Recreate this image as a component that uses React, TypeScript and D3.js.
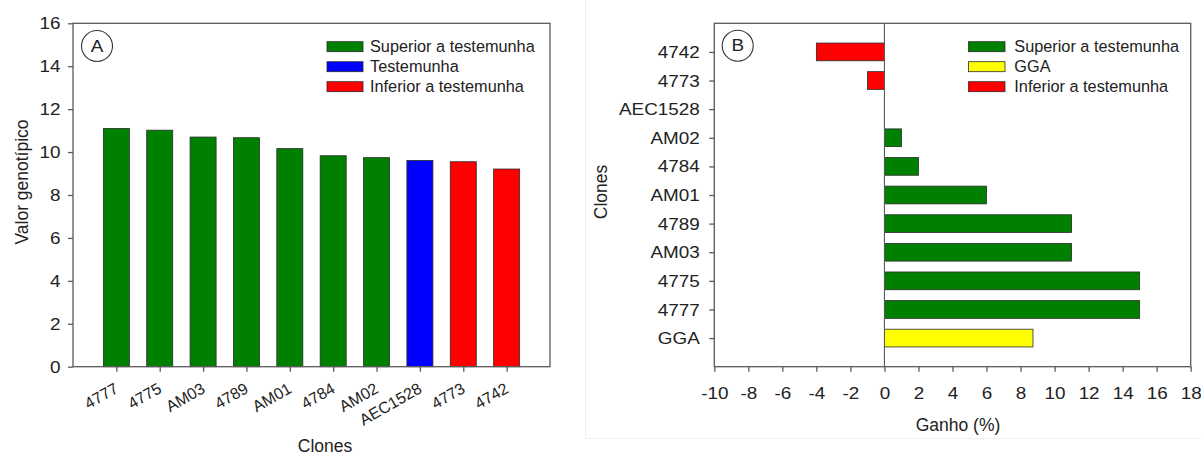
import * as d3 from "d3";
import { useEffect, useRef } from "react";

// Panel A: valor genotípico por clone
const clonesA = ["4777", "4775", "AM03", "4789", "AM01", "4784", "AM02", "AEC1528", "4773", "4742"];
const valuesA = [11.1, 11.02, 10.7, 10.67, 10.16, 9.83, 9.74, 9.61, 9.55, 9.21];
const groupA = ["sup", "sup", "sup", "sup", "sup", "sup", "sup", "test", "inf", "inf"];
const ticksA = [0, 2, 4, 6, 8, 10, 12, 14, 16];

// Panel B: ganho (%) por clone
const clonesB = ["4742", "4773", "AEC1528", "AM02", "4784", "AM01", "4789", "AM03", "4775", "4777", "GGA"];
const valuesB = [-4, -1, 0, 1, 2, 6, 11, 11, 15, 15, 8.73];
const groupB = ["inf", "inf", "sup", "sup", "sup", "sup", "sup", "sup", "sup", "sup", "gga"];
const ticksB = [-10, -8, -6, -4, -2, 0, 2, 4, 6, 8, 10, 12, 14, 16, 18];

const legendA = [
  { key: "sup", label: "Superior a testemunha" },
  { key: "test", label: "Testemunha" },
  { key: "inf", label: "Inferior a testemunha" },
];
const legendB = [
  { key: "sup", label: "Superior a testemunha" },
  { key: "gga", label: "GGA" },
  { key: "inf", label: "Inferior a testemunha" },
];

const colors: Record<string, string> = {
  sup: "#008000",
  test: "#0000ff",
  inf: "#ff0000",
  gga: "#ffff00",
};

export default function App() {
  const svgRef = useRef<SVGSVGElement>(null);
  const width = 1201;
  const height = 455;

  useEffect(() => {
    const svg = d3.select(svgRef.current);
    svg.selectAll("*").remove();

    const font = "'Liberation Sans', Arial, Helvetica, sans-serif";
    const axisColor = "#5a5a5a";
    const textColor = "#222";
    const stretch = 1.18; // tick labels in the figure are wider than Arial

    // faint borders of the two pasted images
    svg.append("line").attr("x1", 585.5).attr("x2", 585.5).attr("y1", 0).attr("y2", 438)
      .attr("stroke", "#f0f0f0");
    svg.append("line").attr("x1", 585).attr("x2", width).attr("y1", 438.5).attr("y2", 438.5)
      .attr("stroke", "#f0f0f0");

    // ---------- Panel A ----------
    const a = { left: 73, right: 550, top: 23.3, bottom: 366.7 };
    const xA = d3.scalePoint<string>().domain(clonesA).range([a.left, a.right]).padding(1);
    const yA = d3.scaleLinear().domain([0, 16]).range([a.bottom, a.top]);
    const gA = svg.append("g");
    const bwA = xA.step() * 0.6;

    gA.selectAll("rect.bar")
      .data(clonesA)
      .enter()
      .append("rect")
      .attr("class", "bar")
      .attr("x", d => xA(d)! - bwA / 2)
      .attr("y", (d, i) => yA(valuesA[i]))
      .attr("width", bwA)
      .attr("height", (d, i) => yA(0) - yA(valuesA[i]))
      .attr("fill", (d, i) => colors[groupA[i]])
      .attr("stroke", "#2b2b2b")
      .attr("stroke-width", 0.8);

    gA.append("rect")
      .attr("x", a.left).attr("y", a.top)
      .attr("width", a.right - a.left).attr("height", a.bottom - a.top)
      .attr("fill", "none").attr("stroke", axisColor).attr("stroke-width", 1.3);

    const yAxA = gA.append("g")
      .attr("transform", `translate(${a.left},0)`)
      .call(d3.axisLeft(yA).tickValues(ticksA).tickSize(5).tickSizeOuter(0).tickFormat(d => String(d)));
    yAxA.select(".domain").remove();
    yAxA.attr("font-size", 16).attr("font-family", font).attr("color", textColor);
    yAxA.selectAll("line").attr("stroke", axisColor).attr("stroke-width", 1.3);
    yAxA.selectAll("text").attr("x", -12.5 / stretch).attr("dy", "0.35em")
      .attr("transform", `scale(${stretch},1)`);

    const xAxA = gA.append("g")
      .attr("transform", `translate(0,${a.bottom})`)
      .call(d3.axisBottom(xA).tickSize(5).tickSizeOuter(0));
    xAxA.select(".domain").remove();
    xAxA.attr("font-size", 16).attr("font-family", font).attr("color", textColor);
    xAxA.selectAll("line").attr("stroke", axisColor).attr("stroke-width", 1.3);
    xAxA.selectAll("text")
      .attr("x", 0).attr("y", 0).attr("dy", 0)
      .attr("text-anchor", "end")
      .attr("transform", "translate(2.5,25) rotate(-30)");

    // legend A
    const legA = gA.append("g");
    legendA.forEach((l, i) => {
      const y = 46.7 + i * 20;
      legA.append("rect").attr("x", 327).attr("y", y - 5).attr("width", 36).attr("height", 10)
        .attr("fill", colors[l.key]).attr("stroke", "#2b2b2b").attr("stroke-width", 0.8);
      legA.append("text").attr("x", 370).attr("y", y).attr("dy", "0.35em")
        .attr("font-size", 16.3).attr("font-family", font).attr("fill", textColor).text(l.label);
    });

    gA.append("circle").attr("cx", 97).attr("cy", 46).attr("r", 15.5)
      .attr("fill", "none").attr("stroke", "#333").attr("stroke-width", 1.1);
    gA.append("text").attr("x", 97).attr("y", 46).attr("dy", "0.35em").attr("text-anchor", "middle")
      .attr("font-size", 16).attr("font-family", font).attr("fill", textColor)
      .attr("transform", `translate(${97 - 97 * stretch},0) scale(${stretch},1)`).text("A");

    gA.append("text").attr("text-anchor", "middle")
      .attr("transform", "translate(28,182) rotate(-90)")
      .attr("font-size", 17.5).attr("font-family", font).attr("fill", textColor).text("Valor genotípico");
    gA.append("text").attr("x", 325).attr("y", 452).attr("text-anchor", "middle")
      .attr("font-size", 17.5).attr("font-family", font).attr("fill", textColor).text("Clones");

    // ---------- Panel B ----------
    const b = { left: 714.3, right: 1190.7, top: 23.3, bottom: 366.7 };
    const xB = d3.scaleLinear().domain([-10, 18]).range([b.left, b.right]);
    const yB = d3.scalePoint<string>().domain(clonesB).range([b.top, b.bottom]).padding(1);
    const gB = svg.append("g");
    const bhB = yB.step() * 0.62;

    gB.selectAll("rect.bar")
      .data(clonesB.filter((d, i) => valuesB[i] !== 0))
      .enter()
      .append("rect")
      .attr("class", "bar")
      .attr("x", d => xB(Math.min(0, valuesB[clonesB.indexOf(d)])))
      .attr("y", d => yB(d)! - bhB / 2)
      .attr("width", d => Math.abs(xB(valuesB[clonesB.indexOf(d)]) - xB(0)))
      .attr("height", bhB)
      .attr("fill", d => colors[groupB[clonesB.indexOf(d)]])
      .attr("stroke", "#2b2b2b")
      .attr("stroke-width", 0.8);

    gB.append("line")
      .attr("x1", xB(0)).attr("x2", xB(0)).attr("y1", b.top).attr("y2", b.bottom)
      .attr("stroke", axisColor).attr("stroke-width", 1.1);

    gB.append("rect")
      .attr("x", b.left).attr("y", b.top)
      .attr("width", b.right - b.left).attr("height", b.bottom - b.top)
      .attr("fill", "none").attr("stroke", axisColor).attr("stroke-width", 1.3);

    const yAxB = gB.append("g")
      .attr("transform", `translate(${b.left},0)`)
      .call(d3.axisLeft(yB).tickSize(5).tickSizeOuter(0));
    yAxB.select(".domain").remove();
    yAxB.attr("font-size", 16).attr("font-family", font).attr("color", textColor);
    yAxB.selectAll("line").attr("stroke", axisColor).attr("stroke-width", 1.3);
    yAxB.selectAll("text").attr("x", -14.5 / stretch).attr("dy", "0.35em")
      .attr("transform", `scale(${stretch},1)`);

    const xAxB = gB.append("g")
      .attr("transform", `translate(0,${b.bottom})`)
      .call(d3.axisBottom(xB).tickValues(ticksB).tickSize(5).tickSizeOuter(0).tickFormat(d => String(d)));
    xAxB.select(".domain").remove();
    xAxB.attr("font-size", 16).attr("font-family", font).attr("color", textColor);
    xAxB.selectAll("line").attr("stroke", axisColor).attr("stroke-width", 1.3);
    xAxB.selectAll("text").attr("y", 32).attr("dy", 0)
      .attr("transform", `scale(${stretch},1)`);
    // scaling moves x of tick groups' text only around its own origin (x=0), so positions hold

    // legend B
    const legB = gB.append("g");
    legendB.forEach((l, i) => {
      const y = 46.7 + i * 20;
      legB.append("rect").attr("x", 968.5).attr("y", y - 5).attr("width", 36.5).attr("height", 10)
        .attr("fill", colors[l.key]).attr("stroke", "#2b2b2b").attr("stroke-width", 0.8);
      legB.append("text").attr("x", 1014.3).attr("y", y).attr("dy", "0.35em")
        .attr("font-size", 16.3).attr("font-family", font).attr("fill", textColor).text(l.label);
    });

    gB.append("circle").attr("cx", 737.7).attr("cy", 45.7).attr("r", 15.5)
      .attr("fill", "none").attr("stroke", "#333").attr("stroke-width", 1.1);
    gB.append("text").attr("x", 737.7).attr("y", 45.7).attr("dy", "0.35em").attr("text-anchor", "middle")
      .attr("font-size", 16).attr("font-family", font).attr("fill", textColor)
      .attr("transform", `translate(${737.7 - 737.7 * stretch},0) scale(${stretch},1)`).text("B");

    gB.append("text").attr("text-anchor", "middle")
      .attr("transform", "translate(607,192) rotate(-90)")
      .attr("font-size", 17.5).attr("font-family", font).attr("fill", textColor).text("Clones");
    gB.append("text").attr("x", 958).attr("y", 431).attr("text-anchor", "middle")
      .attr("font-size", 17.5).attr("font-family", font).attr("fill", textColor).text("Ganho (%)");

    return () => {};
  }, []);

  return (
    <div style={{ position: "absolute", left: 0, top: 0, width, height, background: "#fff" }}>
      <svg ref={svgRef} width={width} height={height}></svg>
    </div>
  );
}
